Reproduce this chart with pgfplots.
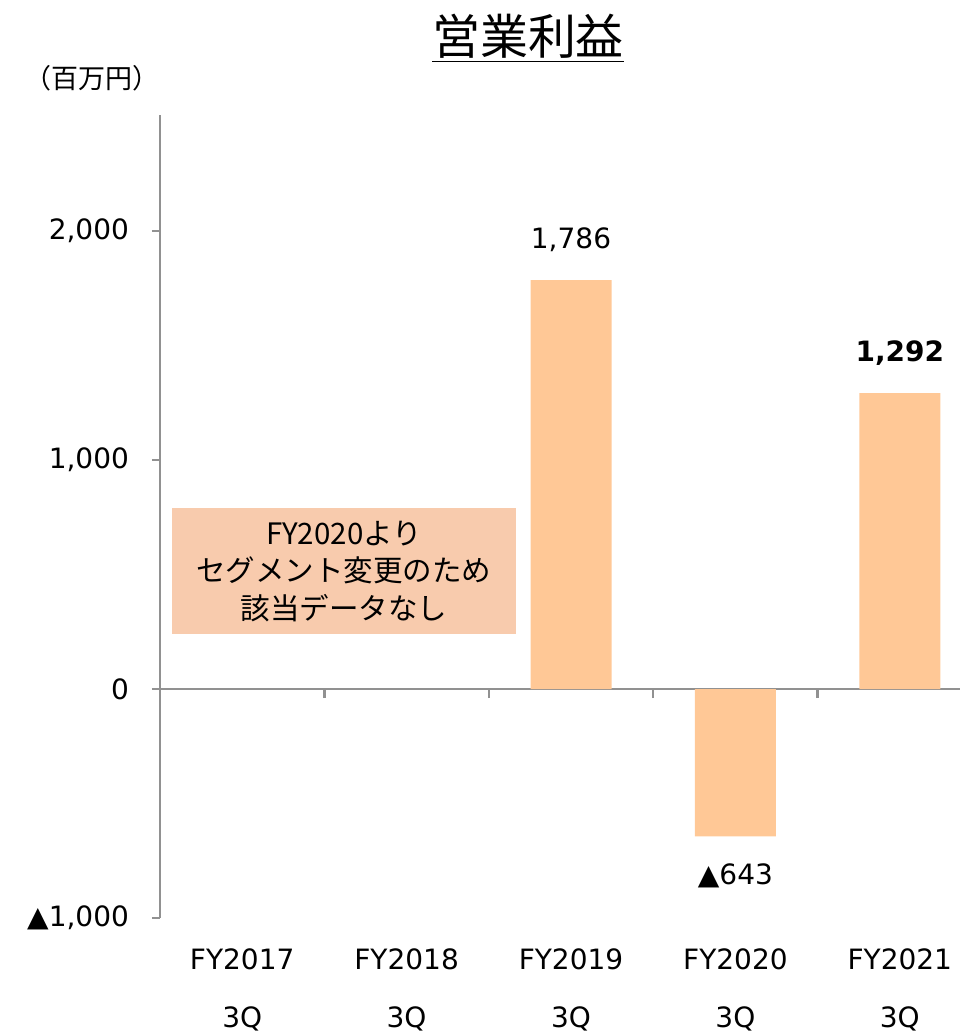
\documentclass[border=0pt]{standalone}
\usepackage{fontspec}
\setmainfont{DejaVu Sans}
\newfontfamily\jp{Noto Sans CJK JP}
\usepackage{pgfplots}
\pgfplotsset{compat=1.18}
\definecolor{barc}{RGB}{255,200,150}
\definecolor{boxc}{RGB}{248,203,173}
\definecolor{axc}{RGB}{145,145,145}
\begin{document}
\begin{tikzpicture}
\path[use as bounding box] (-80pt,-58.5pt) rectangle (400pt,459pt);
\begin{axis}[
    at={(0,0)}, anchor=south west,
    scale only axis,
    width=400pt, height=401.5pt,
    xmin=-0.5, xmax=4.366,
    ymin=-1000, ymax=2507,
    axis y line*=left,
    axis x line*=middle,
    axis line style={axc, line width=1.2pt},
    tick style={axc, line width=1.2pt},
    tick align=outside,
    major tick length=4pt,
    minor tick length=4.5pt,
    ytick={-1000,0,1000,2000},
    yticklabels={{▲1,000},0,{1,000},{2,000}},
    yticklabel style={font=\fontsize{14}{17}\selectfont, xshift=-8pt},
    xtick={0,1,2,3,4},
    xticklabels={{FY2017\\3Q},{FY2018\\3Q},{FY2019\\3Q},{FY2020\\3Q},{FY2021\\3Q}},
    xticklabel style={font=\fontsize{14}{29}\selectfont, align=center, yshift=-122.5pt},
    major x tick style={draw=none},
    minor xtick={0.5,1.5,2.5,3.5},
    ybar,
    bar width=40.5pt,
    clip=false,
]
\fill[boxc] (axis cs:-0.427,240) rectangle (axis cs:1.665,790);
\node[font=\jp\fontsize{14.75}{18.75}\selectfont, align=center] at (axis cs:0.619,515)
    {FY2020より\\セグメント変更のため\\該当データなし};
\addplot[fill=barc, draw=none] coordinates {(2,1786) (3,-643) (4,1292)};
\node[font=\fontsize{14}{17}\selectfont, yshift=20pt] at (axis cs:2,1786) {1,786};
\node[font=\bfseries\fontsize{14}{17}\selectfont, yshift=20pt] at (axis cs:4,1292) {1,292};
\node[font=\fontsize{14}{17}\selectfont, yshift=-20pt] at (axis cs:3,-643) {▲643};
\end{axis}
\node[font=\jp\fontsize{24}{28}\selectfont] at (184pt,440pt) {\underline{営業利益}};
\node[font=\jp\fontsize{13.5}{16}\selectfont] at (-34pt,420pt) {（百万円）};
\end{tikzpicture}
\end{document}
